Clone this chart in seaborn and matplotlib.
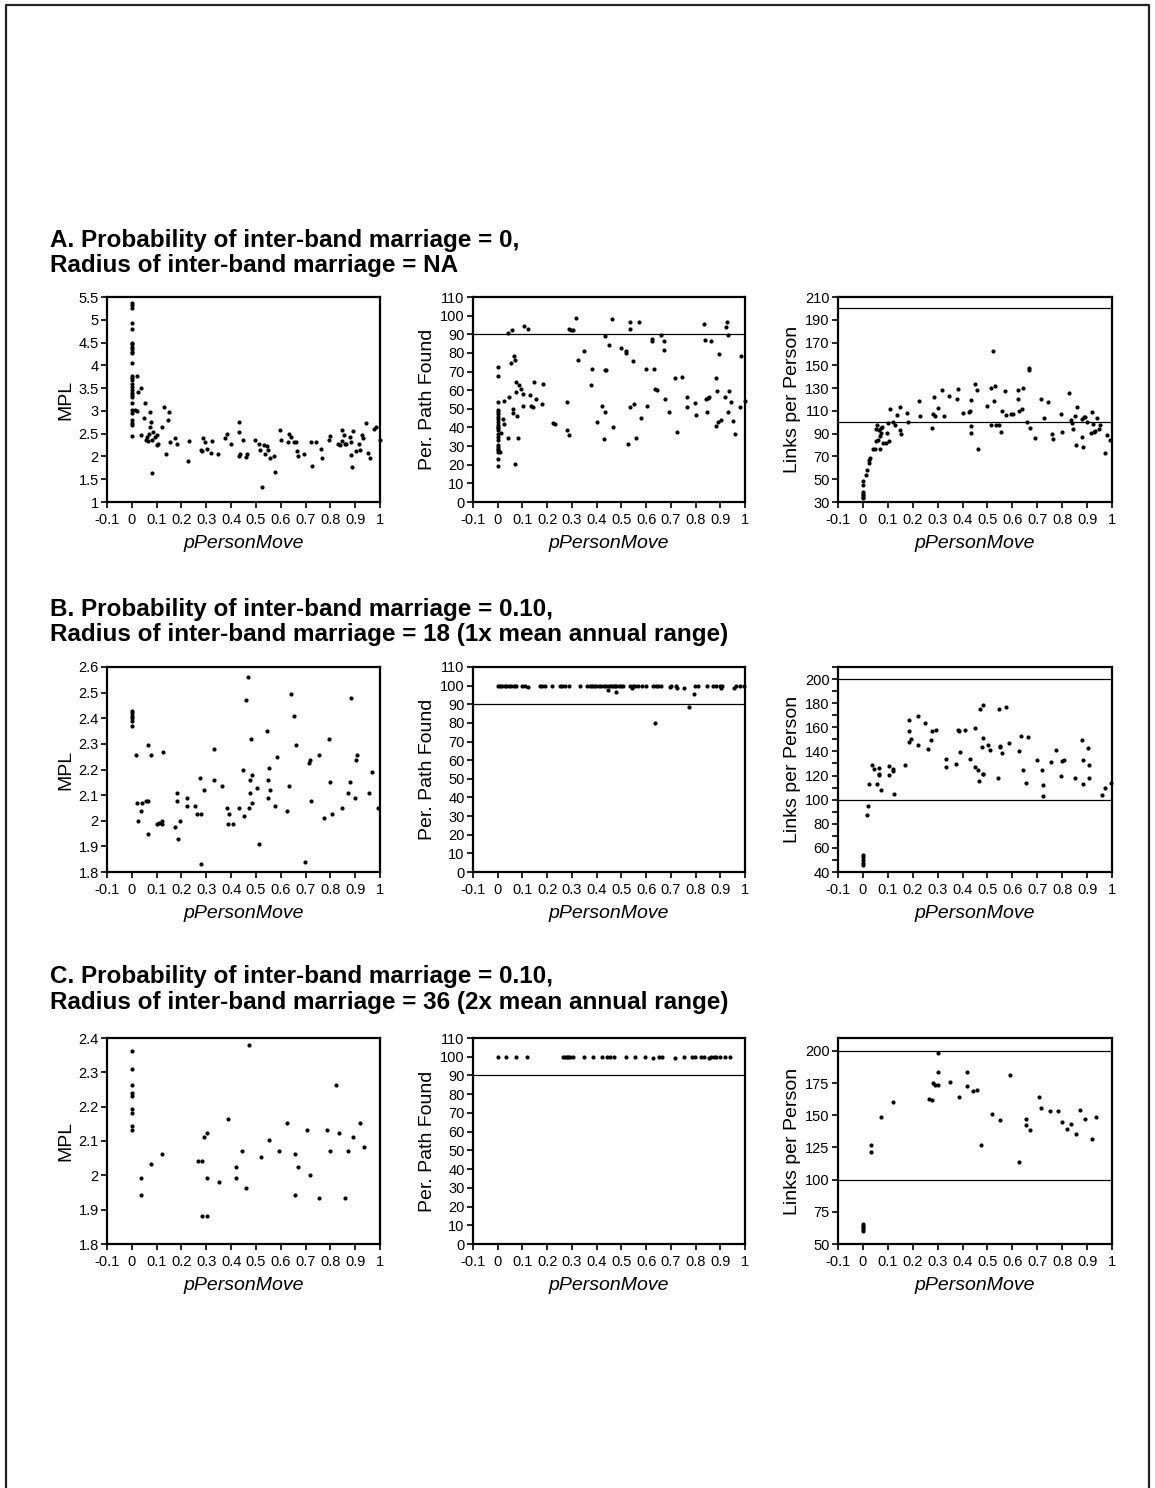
import matplotlib
matplotlib.use("Agg")
import matplotlib.pyplot as plt
import seaborn as sns
import numpy as np
import pandas as pd
from matplotlib.lines import Line2D
from matplotlib.ticker import MultipleLocator

sns.set_style("ticks")
plt.rcParams['font.family'] = ['Liberation Sans', 'DejaVu Sans']
plt.rcParams['text.color'] = 'black'
plt.rcParams['axes.labelcolor'] = 'black'
plt.rcParams['xtick.color'] = 'black'
plt.rcParams['ytick.color'] = 'black'

# ---------------- DATA ----------------
# Row A: probability 0, radius NA
A_mpl_zero_y = [5.37, 5.33, 5.26, 4.93, 4.80, 4.50, 4.47, 4.40, 4.36, 4.30, 4.27, 4.06, 3.77, 3.72,
                3.67, 3.58, 3.53, 3.46, 3.40, 3.35, 3.31, 3.17, 3.03, 2.96, 2.80, 2.73, 2.69, 2.45]
A_mpl_x = [0.012, 0.019, 0.022, 0.026, 0.035, 0.039, 0.049, 0.054, 0.057, 0.062, 0.066, 0.07, 0.073, 0.073,
           0.077, 0.08, 0.08, 0.086, 0.093, 0.1, 0.102, 0.106, 0.12, 0.129, 0.136, 0.144, 0.15, 0.154,
           0.174, 0.181, 0.228, 0.232, 0.279, 0.284, 0.288, 0.294, 0.302, 0.318, 0.322, 0.346, 0.376,
           0.383, 0.399, 0.43, 0.433, 0.43, 0.437, 0.45, 0.461, 0.466, 0.497, 0.513, 0.515, 0.524, 0.531,
           0.535, 0.544, 0.549, 0.558, 0.571, 0.575, 0.598, 0.602, 0.628, 0.632, 0.642, 0.652, 0.663,
           0.666, 0.668, 0.693, 0.72, 0.726, 0.744, 0.764, 0.767, 0.795, 0.8, 0.832, 0.838, 0.845, 0.848,
           0.854, 0.857, 0.865, 0.881, 0.885, 0.884, 0.888, 0.891, 0.902, 0.916, 0.919, 0.926, 0.93,
           0.943, 0.953, 0.958, 0.976, 0.985, 1.0]
A_mpl_y = [3.03, 3.0, 3.77, 3.42, 2.48, 3.50, 2.84, 3.17, 2.36, 2.43, 2.34, 2.49, 2.65, 2.98,
           2.76, 1.64, 2.36, 2.54, 2.43, 2.47, 2.25, 2.27, 2.64, 3.09, 2.06, 2.80, 2.97, 2.31,
           2.40, 2.27, 1.90, 2.34, 2.15, 2.12, 2.40, 2.32, 2.17, 2.08, 2.34, 2.06, 2.40,
           2.49, 2.28, 2.54, 2.76, 2.01, 2.06, 2.36, 1.99, 2.06, 2.36, 2.27, 2.14, 1.33, 2.25,
           2.06, 2.23, 2.14, 1.97, 2.01, 1.66, 2.59, 2.36, 2.32, 2.49, 2.43, 2.32, 2.32,
           2.12, 2.01, 2.06, 2.32, 1.79, 2.32, 2.17, 1.97, 2.36, 2.45, 2.28, 2.26, 2.58, 2.34,
           2.47, 2.27, 2.27, 2.43, 2.32, 2.04, 1.77, 2.56, 2.12, 2.28, 2.15, 2.47, 2.40,
           2.74, 2.08, 1.97, 2.60, 2.65, 2.36]

A_path_zero_y = [72.4, 67.7, 53.5, 49.4, 48.5, 47.2, 45.8, 44.3, 43.1, 41.3, 40.4, 39.5, 38.6, 36.4,
                 35.0, 33.2, 30.5, 29.6, 28.7, 27.8, 26.9, 23.0, 19.4]
A_path_x = [0.01, 0.014, 0.023, 0.024, 0.024, 0.04, 0.04, 0.047, 0.054, 0.058, 0.061, 0.063, 0.067, 0.07,
            0.07, 0.072, 0.074, 0.077, 0.081, 0.088, 0.094, 0.104, 0.104, 0.108, 0.121, 0.131, 0.135,
            0.144, 0.148, 0.155, 0.178, 0.182, 0.225, 0.232, 0.279, 0.281, 0.287, 0.29, 0.297, 0.304,
            0.317, 0.324, 0.347, 0.378, 0.382, 0.402, 0.421, 0.429, 0.432, 0.436, 0.435, 0.432, 0.452,
            0.463, 0.466, 0.499, 0.517, 0.517, 0.526, 0.533, 0.536, 0.536, 0.549, 0.553, 0.56, 0.571,
            0.578, 0.598, 0.605, 0.625, 0.625, 0.632, 0.638, 0.644, 0.661, 0.671, 0.671, 0.675, 0.691,
            0.718, 0.726, 0.746, 0.765, 0.765, 0.796, 0.803, 0.833, 0.839, 0.843, 0.846, 0.85, 0.854,
            0.861, 0.884, 0.884, 0.887, 0.891, 0.893, 0.904, 0.92, 0.924, 0.928, 0.931, 0.931, 0.934,
            0.945, 0.951, 0.958, 0.978, 0.985, 0.999]
A_path_y = [26.9, 37.2, 44.3, 41.8, 54.4, 90.7, 34.1, 56.2, 74.5, 92.1, 49.9, 47.9, 78.6, 76.3,
            20.6, 64.6, 59.2, 46.1, 34.1, 62.8, 60.7, 58.0, 51.7, 94.3, 92.8, 57.5, 51.7,
            50.8, 64.6, 55.3, 52.4, 63.4, 42.2, 41.7, 53.9, 38.6, 92.8, 35.9, 92.5, 92.1,
            98.7, 76.3, 81.2, 62.8, 71.3, 43.1, 51.7, 33.6, 71.0, 71.0, 48.1, 89.2, 84.0,
            98.2, 40.4, 82.9, 80.8, 80.2, 31.1, 96.6, 92.8, 50.8, 75.4, 52.4, 34.5, 96.4,
            45.2, 71.3, 51.7, 87.4, 86.2, 71.3, 60.5, 60.1, 89.8, 86.2, 81.7, 55.3, 48.1,
            66.4, 37.7, 67.0, 56.6, 51.2, 53.0, 46.7, 95.7, 87.1, 55.3, 48.1, 55.7, 56.6,
            86.5, 66.4, 40.8, 59.8, 43.1, 79.4, 44.0, 56.6, 93.9, 96.4, 48.1, 89.8, 59.8,
            53.5, 43.4, 36.4, 51.2, 78.1, 54.2]

A_links_zero_y = [48.5, 44.7, 38.8, 37.3, 35.9, 34.4, 33.5]
A_links_x = [0.013, 0.017, 0.023, 0.024, 0.03, 0.04, 0.047, 0.051, 0.054, 0.058, 0.06, 0.064, 0.067, 0.068,
             0.071, 0.074, 0.078, 0.081, 0.091, 0.097, 0.101, 0.105, 0.107, 0.121, 0.13, 0.137, 0.148,
             0.148, 0.154, 0.179, 0.181, 0.226, 0.231, 0.278, 0.282, 0.286, 0.289, 0.302, 0.319, 0.325,
             0.345, 0.377, 0.383, 0.403, 0.427, 0.43, 0.432, 0.434, 0.434, 0.45, 0.46, 0.464, 0.497,
             0.514, 0.514, 0.523, 0.528, 0.53, 0.533, 0.546, 0.553, 0.557, 0.57, 0.574, 0.595, 0.601,
             0.621, 0.624, 0.628, 0.638, 0.644, 0.658, 0.667, 0.667, 0.671, 0.689, 0.715, 0.726, 0.745,
             0.761, 0.762, 0.795, 0.799, 0.828, 0.835, 0.839, 0.843, 0.852, 0.855, 0.859, 0.879, 0.879,
             0.882, 0.889, 0.893, 0.899, 0.914, 0.919, 0.923, 0.926, 0.933, 0.94, 0.946, 0.953, 0.97,
             0.98, 0.993]
A_links_y = [54.1, 57.9, 64.4, 66.7, 68.8, 76.4, 76.1, 83.7, 93.7, 97.8, 84.3, 93.1, 88.1, 76.7,
             94.6, 90.2, 95.5, 82.0, 81.4, 90.2, 99.6, 83.7, 111.6, 100.5, 97.5, 106.3, 113.7,
             93.1, 89.6, 107.8, 99.9, 118.7, 105.5, 94.6, 106.9, 122.5, 105.5, 112.8, 128.4, 105.5,
             123.4, 120.4, 129.5, 107.8, 109.3, 110.2, 119.5, 96.6, 90.2, 133.6, 128.4, 76.1, 114.6,
             130.4, 97.5, 162.7, 118.7, 131.9, 97.5, 97.5, 91.7, 109.9, 127.8, 106.3, 107.2, 106.9,
             128.4, 120.1, 110.2, 111.6, 129.8, 99.9, 147.4, 145.7, 94.6, 85.8, 120.4, 103.4, 117.5,
             89.6, 85.2, 107.2, 91.7, 125.4, 101.9, 99.6, 93.7, 105.7, 79.9, 113.1, 102.5, 86.7,
             77.9, 104.3, 104.9, 100.5, 90.2, 109.3, 98.1, 91.7, 92.3, 104.0, 94.0, 97.5, 73.2,
             88.7, 84.3]

# Row B: probability 0.10, radius 18
B_mpl_zero_y = [2.43, 2.42, 2.41, 2.40, 2.39, 2.37]
B_mpl_x = [0.016, 0.022, 0.026, 0.035, 0.043, 0.056, 0.066, 0.066, 0.067, 0.077, 0.102, 0.109, 0.122, 0.122,
           0.126, 0.172, 0.184, 0.184, 0.187, 0.194, 0.222, 0.222, 0.254, 0.263, 0.274, 0.277, 0.278,
           0.29, 0.332, 0.332, 0.364, 0.384, 0.387, 0.392, 0.409, 0.433, 0.446, 0.452, 0.46, 0.469,
           0.473, 0.478, 0.478, 0.48, 0.483, 0.483, 0.503, 0.511, 0.543, 0.547, 0.547, 0.551, 0.556,
           0.577, 0.583, 0.624, 0.634, 0.64, 0.653, 0.661, 0.699, 0.715, 0.718, 0.72, 0.753, 0.776,
           0.794, 0.798, 0.808, 0.848, 0.872, 0.88, 0.882, 0.899, 0.903, 0.909, 0.957, 0.966, 0.993]
B_mpl_y = [2.257, 2.07, 1.998, 2.04, 2.07, 2.078, 2.078, 2.296, 1.95, 2.257, 1.989, 1.993, 2.0, 1.989,
           2.27, 1.976, 2.109, 2.078, 1.928, 1.998, 2.087, 2.057, 2.057, 2.028, 2.168, 2.028, 1.83,
           2.12, 2.279, 2.159, 2.137, 2.048, 1.989, 2.028, 1.989, 2.048, 2.198, 2.018, 2.47, 2.56,
           2.048, 2.159, 2.109, 2.32, 2.179, 2.07, 2.129, 1.911, 2.351, 2.159, 2.087, 2.207, 2.12,
           2.057, 2.248, 2.039, 2.137, 2.496, 2.407, 2.296, 1.839, 2.227, 2.237, 2.078, 2.257, 2.009,
           2.32, 2.15, 2.028, 2.048, 2.109, 2.15, 2.479, 2.087, 2.237, 2.257, 2.109, 2.189, 2.048]

B_path_x = [0.0, 0.01, 0.018, 0.028, 0.034, 0.045, 0.055, 0.064, 0.075, 0.099, 0.109, 0.122, 0.169, 0.18,
            0.19, 0.221, 0.25, 0.261, 0.271, 0.288, 0.331, 0.362, 0.372, 0.381, 0.389, 0.398, 0.409,
            0.418, 0.429, 0.438, 0.449, 0.457, 0.466, 0.473, 0.48, 0.489, 0.497, 0.507, 0.536, 0.547,
            0.557, 0.567, 0.584, 0.598, 0.628, 0.639, 0.648, 0.659, 0.7, 0.72, 0.797, 0.81, 0.848,
            0.871, 0.882, 0.898, 0.905, 0.965, 0.979, 0.997,
            0.446, 0.48, 0.545, 0.638, 0.698, 0.723, 0.752, 0.774, 0.793, 0.902, 0.955]
B_path_y = [100, 100, 100, 100, 100, 100, 100, 100, 100, 100, 100, 99.5, 100, 100,
            100, 100, 100, 100, 100, 100, 100, 100, 100, 100, 100, 100, 100,
            100, 100, 100, 100, 100, 100, 100, 100, 100, 100, 100, 100, 100,
            100, 100, 100, 100, 100, 100, 100, 100, 100, 100, 100, 100, 100,
            100, 100, 100, 100, 100, 100, 100,
            97.5, 96.4, 98.7, 79.9, 99.3, 98.7, 98.7, 88.5, 95.7, 98.7, 98.7]

B_links_zero_y = [54.5, 52.6, 50.3, 47.8, 45.6]
B_links_x = [0.015, 0.019, 0.024, 0.035, 0.045, 0.055, 0.065, 0.066, 0.066, 0.073, 0.103, 0.103, 0.119,
             0.119, 0.123, 0.17, 0.184, 0.184, 0.184, 0.193, 0.222, 0.222, 0.251, 0.262, 0.272, 0.276,
             0.292, 0.332, 0.332, 0.373, 0.38, 0.386, 0.391, 0.409, 0.431, 0.45, 0.451, 0.461, 0.468,
             0.472, 0.478, 0.481, 0.484, 0.484, 0.484, 0.501, 0.512, 0.542, 0.546, 0.549, 0.551, 0.558,
             0.573, 0.585, 0.626, 0.636, 0.641, 0.653, 0.664, 0.7, 0.718, 0.722, 0.722, 0.754, 0.776,
             0.796, 0.801, 0.809, 0.85, 0.88, 0.882, 0.884, 0.903, 0.907, 0.909, 0.961, 0.97, 0.995]
B_links_y = [87.5, 95.0, 113.2, 128.5, 125.2, 113.2, 126.6, 121.5, 120.4, 108.4, 128.0, 120.4, 125.2,
             123.8, 104.8, 128.5, 166.2, 156.7, 147.5, 150.3, 169.0, 145.3, 163.4, 141.9, 149.5, 156.7,
             157.8, 133.5, 127.1, 129.4, 157.8, 156.7, 139.7, 157.8, 134.1, 159.5, 127.4, 124.3, 115.4,
             175.4, 143.9, 121.5, 178.8, 121.0, 151.1, 145.3, 141.1, 118.2, 174.9, 144.2, 143.3, 138.6,
             176.8, 146.7, 140.5, 152.5, 124.3, 114.0, 152.3, 133.0, 124.3, 112.0, 102.8, 131.3, 141.4,
             119.6, 132.2, 133.0, 117.6, 149.5, 133.0, 113.2, 142.5, 128.5, 117.6, 104.2, 109.3, 114.0]

# Row C: probability 0.10, radius 36
C_mpl_zero_y = [2.361, 2.311, 2.262, 2.241, 2.231, 2.192, 2.182, 2.143, 2.132]
C_mpl_x = [0.035, 0.035, 0.077, 0.122, 0.267, 0.281, 0.281, 0.29, 0.304, 0.304, 0.304, 0.351, 0.386,
           0.419, 0.419, 0.442, 0.46, 0.473, 0.519, 0.551, 0.593, 0.624, 0.657, 0.657, 0.671, 0.704,
           0.718, 0.754, 0.785, 0.798, 0.821, 0.835, 0.859, 0.872, 0.89, 0.919, 0.935]
C_mpl_y = [1.992, 1.943, 2.033, 2.063, 2.043, 2.043, 1.883, 2.112, 2.122, 1.992, 1.883, 1.982, 2.163,
           2.023, 1.992, 2.072, 1.963, 2.38, 2.053, 2.102, 2.072, 2.153, 2.062, 1.943, 2.023, 2.132,
           2.002, 1.934, 2.132, 2.072, 2.262, 2.122, 1.934, 2.072, 2.112, 2.153, 2.082]

C_path_x = [0.0, 0.034, 0.074, 0.12, 0.265, 0.272, 0.279, 0.285, 0.292, 0.303, 0.349, 0.386, 0.42, 0.44,
            0.454, 0.47, 0.518, 0.555, 0.595, 0.653, 0.666, 0.752, 0.787, 0.797, 0.824, 0.833, 0.864,
            0.873, 0.884, 0.898, 0.918, 0.938, 0.626, 0.716, 0.855]
C_path_y = [100, 100, 100, 100, 100, 100, 100, 100, 100, 100, 100, 100, 100, 100,
            100, 100, 100, 100, 100, 100, 100, 100, 100, 100, 100, 100, 100,
            100, 100, 100, 100, 100, 99.4, 99.4, 99.4]

C_links_zero_y = [65.5, 64.2, 62.9, 61.6, 59.8]
C_links_x = [0.034, 0.034, 0.074, 0.12, 0.265, 0.276, 0.283, 0.289, 0.303, 0.303, 0.303, 0.349, 0.386,
             0.419, 0.419, 0.44, 0.46, 0.474, 0.518, 0.55, 0.592, 0.625, 0.655, 0.655, 0.672, 0.706,
             0.716, 0.752, 0.785, 0.798, 0.821, 0.834, 0.857, 0.871, 0.891, 0.918, 0.935]
C_links_y = [127.1, 121.4, 149.0, 160.2, 162.7, 162.0, 175.4, 173.6, 173.6, 198.2, 183.4, 176.2, 163.8,
             183.4, 172.8, 169.0, 169.7, 127.1, 150.9, 146.5, 180.9, 113.6, 147.2, 142.1, 138.2, 163.8,
             156.0, 153.4, 153.4, 144.6, 139.5, 143.1, 135.3, 154.2, 147.2, 131.5, 148.3]

x_ticks = [-0.1, 0, 0.1, 0.2, 0.3, 0.4, 0.5, 0.6, 0.7, 0.8, 0.9, 1]
x_tick_labels = ["-0.1", "0", "0.1", "0.2", "0.3", "0.4", "0.5", "0.6", "0.7", "0.8", "0.9", "1"]

titles = [
    ("A. Probability of inter-band marriage = 0,", "Radius of inter-band marriage = NA"),
    ("B. Probability of inter-band marriage = 0.10,", "Radius of inter-band marriage = 18 (1x mean annual range)"),
    ("C. Probability of inter-band marriage = 0.10,", "Radius of inter-band marriage = 36 (2x mean annual range)"),
]
y_labels = ["MPL", "Per. Path Found", "Links per Person"]

# ---------------- LAYOUT ----------------
W, H = 1155, 1488
fig = plt.figure(figsize=(W / 100, H / 100), dpi=100)
col_l = [107, 473, 838]
col_r = [380, 745, 1112]
row_t = [297, 667, 1038]
row_b = [502, 872, 1244]
title_base = [(247, 272), (616, 641), (983, 1009)]


def ticks_from(start, stop, step):
    n = int(round((stop - start) / step)) + 1
    return [round(start + i * step, 2) for i in range(n)]


panels = [
    # row A
    [dict(zero=A_mpl_zero_y, x=A_mpl_x, y=A_mpl_y, ylim=(1, 5.5), yt=(1, 5.5, 0.5), h=[], minor=None),
     dict(zero=A_path_zero_y, x=A_path_x, y=A_path_y, ylim=(0, 110), yt=(0, 110, 10), h=[90], minor=None),
     dict(zero=A_links_zero_y, x=A_links_x, y=A_links_y, ylim=(30, 210), yt=(30, 210, 20), h=[100, 200], minor=None)],
    # row B
    [dict(zero=B_mpl_zero_y, x=B_mpl_x, y=B_mpl_y, ylim=(1.8, 2.6), yt=(1.8, 2.6, 0.1), h=[], minor=None),
     dict(zero=[], x=B_path_x, y=B_path_y, ylim=(0, 110), yt=(0, 110, 10), h=[90], minor=None),
     dict(zero=B_links_zero_y, x=B_links_x, y=B_links_y, ylim=(40, 210), yt=(40, 200, 20), h=[100, 200], minor=10)],
    # row C
    [dict(zero=C_mpl_zero_y, x=C_mpl_x, y=C_mpl_y, ylim=(1.8, 2.4), yt=(1.8, 2.4, 0.1), h=[], minor=None),
     dict(zero=[], x=C_path_x, y=C_path_y, ylim=(0, 110), yt=(0, 110, 10), h=[90], minor=None),
     dict(zero=C_links_zero_y, x=C_links_x, y=C_links_y, ylim=(50, 210), yt=(50, 200, 25), h=[100, 200], minor=None)],
]

for r in range(3):
    for c in range(3):
        p = panels[r][c]
        ax = fig.add_axes([col_l[c] / W, 1 - row_b[r] / H,
                           (col_r[c] - col_l[c]) / W, (row_b[r] - row_t[r]) / H])
        xs = [0.0] * len(p["zero"]) + list(p["x"])
        ys = list(p["zero"]) + list(p["y"])
        df = pd.DataFrame({"pPersonMove": xs, "value": ys})
        for hv in p["h"]:
            ax.axhline(hv, color="black", lw=0.9, zorder=1)
        sns.scatterplot(data=df, x="pPersonMove", y="value", ax=ax, color="black",
                        s=9, linewidth=0, legend=False, zorder=3, clip_on=False)
        ax.set_xlim(-0.1, 1.0)
        ax.set_ylim(*p["ylim"])
        ax.set_xticks(x_ticks)
        ax.set_xticklabels(x_tick_labels)
        yt = ticks_from(*p["yt"])
        ax.set_yticks(yt)
        ax.set_yticklabels(["{:g}".format(v) for v in yt])
        if p["minor"]:
            ax.yaxis.set_minor_locator(MultipleLocator(p["minor"]))
            ax.tick_params(axis="y", which="minor", direction="out", length=4, width=1.2,
                           left=True, colors="black")
        for s in ax.spines.values():
            s.set_visible(True)
            s.set_linewidth(1.6)
            s.set_color("black")
        ax.tick_params(axis="x", which="major", direction="out", length=4, width=1.2,
                       labelsize=10.5, pad=4, colors="black", top=False)
        ax.tick_params(axis="y", which="major", direction="out", length=4, width=1.2,
                       labelsize=10.5, pad=2, colors="black", right=False)
        ax.set_xlabel("pPersonMove", fontsize=14, fontstyle="italic", labelpad=6)
        ax.set_ylabel(y_labels[c], fontsize=14, labelpad=3)
        ax.set_facecolor("white")

for r in range(3):
    l1, l2 = titles[r]
    b1, b2 = title_base[r]
    fig.text(50 / W, 1 - b1 / H, l1, fontsize=17.5, fontweight="bold", va="baseline", ha="left",
             color="black")
    fig.text(50 / W, 1 - b2 / H, l2, fontsize=17.5, fontweight="bold", va="baseline", ha="left",
             color="black")

# outer frame (left, top, right)
fig.add_artist(Line2D([6 / W, 6 / W, 1149 / W, 1149 / W], [0, 1 - 5 / H, 1 - 5 / H, 0],
                      transform=fig.transFigure, color="#222222", lw=1.6))

fig.savefig("out.png", dpi=100, facecolor="white")
